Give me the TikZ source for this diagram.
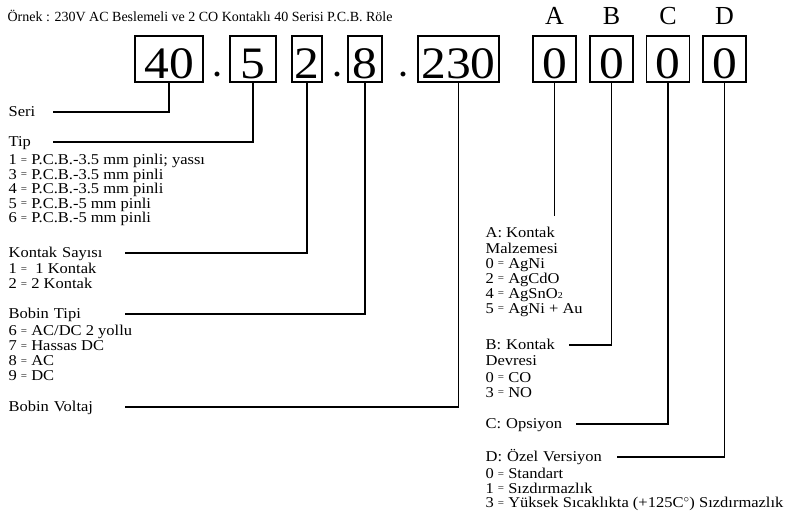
\documentclass[tikz,border=0pt]{standalone}
\usepackage{fontspec}
\usepackage{amsmath}
\setmainfont{Liberation Serif}
\newfontfamily\bodyfam{Liberation Serif}[FakeStretch=1.10]
\usetikzlibrary{positioning}
\newcommand{\bodyfont}{\bodyfam\fontsize{15}{15}\selectfont\lineskiplimit=-50pt\relax}
\newcommand{\tipfont}{\bodyfam\fontsize{15}{14.5}\selectfont\lineskiplimit=-50pt\relax}
\newcommand{\eqs}{\raisebox{1.2pt}{\fontsize{10}{10}\selectfont =}}

\begin{document}
\begin{tikzpicture}[x=1pt,y=-1pt,line width=1.2pt,
    digitbox/.style={draw,inner sep=0pt,text height=42pt,text depth=4pt,font=\bodyfam\fontsize{45}{45}\selectfont},
    lettertxt/.style={inner sep=0pt,font=\fontsize{26}{26}\selectfont},
    dotmark/.style={inner sep=0pt,anchor=base,font=\fontsize{30}{30}\selectfont\bfseries},
    headtxt/.style={inner sep=0pt,anchor=west,align=left,text height=10pt,text depth=2pt,font=\bodyfont},
    listtxt/.style={inner sep=0pt,anchor=north west,align=left,font=\bodyfont}]
    \useasboundingbox (0,0) rectangle (789,519);
    \node[inner sep=0pt,anchor=base west,font=\fontsize{14}{14}\selectfont] (title) at (7,22) {Örnek : 230V AC Beslemeli ve 2 CO Kontaklı 40 Serisi P.C.B. Röle};
    % code boxes
    \node[digitbox,minimum width=68pt] (n40) at (169,59) {40};
    \node[dotmark] (d1) at (217,77) {.};
    \node[digitbox,minimum width=46pt] (n5) at (253,59) {5};
    \node[digitbox,minimum width=30pt] (n2) at (307,59) {2};
    \node[dotmark] (d2) at (337,77) {.};
    \node[digitbox,minimum width=34pt] (n8) at (365,59) {8};
    \node[dotmark] (d3) at (403,77) {.};
    \node[digitbox,minimum width=81pt] (n230) at (458.5,59) {230};
    \node[digitbox,minimum width=43pt] (na) at (554.5,59) {0};
    \node[digitbox,minimum width=43pt] (nb) at (611.5,59) {0};
    \node[digitbox,minimum width=43pt] (nc) at (668,59) {0};
    \node[digitbox,minimum width=43pt] (nd) at (724.5,59) {0};
    \node[lettertxt] (la) at (554.5,16) {A};
    \node[lettertxt] (lb) at (611.5,16) {B};
    \node[lettertxt] (lc) at (668,16) {C};
    \node[lettertxt] (ld) at (724.5,16) {D};
    % left column
    \node[headtxt,text width=44pt] (seri) at (8,112) {Seri};
    \node[headtxt,text width=44pt] (tip) at (8,142) {Tip};
    \node[listtxt,font=\tipfont] (tiplist) at (8,153.5) {1 \eqs{} P.C.B.-3.5 mm pinli; yassı\\3 \eqs{} P.C.B.-3.5 mm pinli\\4 \eqs{} P.C.B.-3.5 mm pinli\\5 \eqs{} P.C.B.-5 mm pinli\\6 \eqs{} P.C.B.-5 mm pinli};
    \node[headtxt,text width=116pt] (sayi) at (8,253) {Kontak Sayısı};
    \node[listtxt] (sayilist) at (8,262.5) {1 \eqs{} \ 1 Kontak\\2 \eqs{} 2 Kontak};
    \node[headtxt,text width=116pt] (bobin) at (8,314) {Bobin Tipi};
    \node[listtxt] (bobinlist) at (8,324.5) {6 \eqs{} AC/DC 2 yollu\\7 \eqs{} Hassas DC\\8 \eqs{} AC\\9 \eqs{} DC};
    \node[headtxt,text width=116pt] (voltaj) at (8,407) {Bobin Voltaj};
    % right column
    \node[listtxt,font=\bodyfam\fontsize{15}{16}\selectfont] (malz) at (485,226.5) {A: Kontak\\Malzemesi};
    \node[listtxt] (malzlist) at (485,257.5) {0 \eqs{} AgNi\\2 \eqs{} AgCdO\\4 \eqs{} AgSnO{\fontsize{9}{9}\selectfont 2}\\5 \eqs{} AgNi + Au};
    \coordinate (aend) at (554.5,216);
    \node[headtxt,text width=83pt] (devre) at (485,345) {B: Kontak};
    \node[listtxt] (devrelist) at (485,354.5) {Devresi\\[2pt]0 \eqs{} CO\\3 \eqs{} NO};
    \node[headtxt,text width=90pt] (opsiyon) at (485,424) {C: Opsiyon};
    \node[headtxt,text width=131pt] (ozel) at (485,457) {D: Özel Versiyon};
    \node[listtxt,font=\tipfont] (ozellist) at (485,467.5) {0 \eqs{} Standart\\1 \eqs{} Sızdırmazlık\\3 \eqs{} Yüksek Sıcaklıkta (+125C$^{\circ}$) Sızdırmazlık};
    % connectors
    \draw (n40.south) |- (seri.east);
    \draw (n5.south) |- (tip.east);
    \draw (n2.south) |- (sayi.east);
    \draw (n8.south) |- (bobin.east);
    \draw (n230.south) |- (voltaj.east);
    \draw (na.south) -- (aend);
    \draw (nb.south) |- (devre.east);
    \draw (nc.south) |- (opsiyon.east);
    \draw (nd.south) |- (ozel.east);
\end{tikzpicture}
\end{document}
